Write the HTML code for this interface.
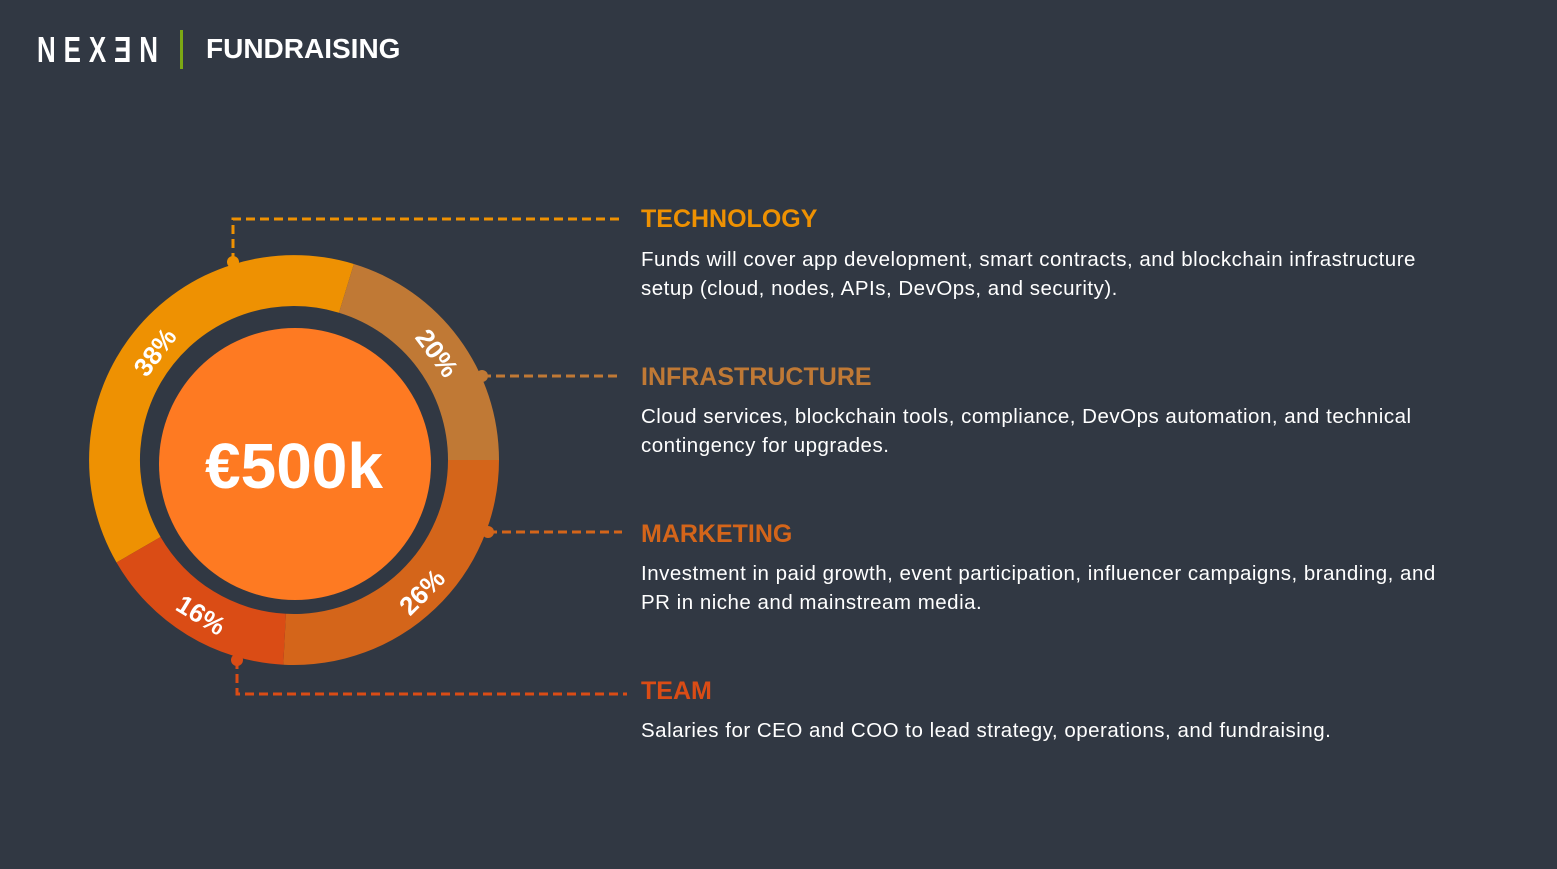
<!DOCTYPE html>
<html><head><meta charset="utf-8"><style>
body{margin:0;width:1557px;height:869px;background:#313843;overflow:hidden;font-family:"Liberation Sans",sans-serif;position:relative}
.logo{position:absolute;left:37px;top:29px;font-size:36px;color:#fff;letter-spacing:11px;transform:scaleX(0.72);transform-origin:left top;font-weight:bold}
.bar{position:absolute;left:180px;top:30px;width:3px;height:39px;background:#7ca814}
.title{position:absolute;left:206px;top:33px;font-size:28px;font-weight:bold;color:#fff}
.h{position:absolute;left:641px;font-size:25px;font-weight:bold;letter-spacing:0px}
.p{position:absolute;left:641px;font-size:20.5px;line-height:29px;color:#fff;width:830px;letter-spacing:0.5px}
</style></head><body>
<div class="logo">NEXƎN</div>
<div class="bar"></div>
<div class="title">FUNDRAISING</div>
<svg width="1557" height="869" style="position:absolute;left:0;top:0">
<g stroke-width="3" fill="none" stroke-dasharray="9,5">
<path d="M233 262 V219 H622" stroke="#ee9102"/>
<path d="M482 376 H622" stroke="#c07935"/>
<path d="M488 532 H622" stroke="#d4651a"/>
<path d="M237 660 V694 H627" stroke="#da4c15"/>
</g>
<path d="M116.5 562.5 A205 205 0 0 1 353.9 264 L339 312.7 A154 154 0 0 0 160.6 537 Z" fill="#ee9102"/>
<path d="M353.9 264 A205 205 0 0 1 499 460 L448 460 A154 154 0 0 0 339 312.7 Z" fill="#c07935"/>
<path d="M499 460 A205 205 0 0 1 283.3 664.7 L285.9 613.8 A154 154 0 0 0 448 460 Z" fill="#d4651a"/>
<path d="M283.3 664.7 A205 205 0 0 1 116.5 562.5 L160.6 537 A154 154 0 0 0 285.9 613.8 Z" fill="#da4c15"/>
<circle cx="233" cy="262" r="6" fill="#ee9102"/>
<circle cx="482" cy="376" r="6" fill="#c07935"/>
<circle cx="488" cy="532" r="6" fill="#d4651a"/>
<circle cx="237" cy="660" r="6" fill="#da4c15"/>
<circle cx="295" cy="464" r="136" fill="#fe7a22"/>
<g fill="#fff" font-family="Liberation Sans, sans-serif" font-weight="bold" font-size="26" text-anchor="middle" dominant-baseline="central">
<text transform="translate(155,352) rotate(-53)">38%</text>
<text transform="translate(437,353) rotate(53.5)">20%</text>
<text transform="translate(422,592) rotate(-45)">26%</text>
<text transform="translate(201,615) rotate(31.5)">16%</text>
<text x="294" y="466" font-size="64" letter-spacing="0">€500k</text>
</g>
</svg>
<div class="h" style="top:205px;color:#ee9102">TECHNOLOGY</div>
<div class="p" style="top:245px">Funds will cover app development, smart contracts, and blockchain infrastructure setup (cloud, nodes, APIs, DevOps, and security).</div>
<div class="h" style="top:363px;color:#c07935">INFRASTRUCTURE</div>
<div class="p" style="top:402px">Cloud services, blockchain tools, compliance, DevOps automation, and technical contingency for upgrades.</div>
<div class="h" style="top:520px;color:#d4651a">MARKETING</div>
<div class="p" style="top:559px">Investment in paid growth, event participation, influencer campaigns, branding, and PR in niche and mainstream media.</div>
<div class="h" style="top:677px;color:#da4c15">TEAM</div>
<div class="p" style="top:716px">Salaries for CEO and COO to lead strategy, operations, and fundraising.</div>
</body></html>
